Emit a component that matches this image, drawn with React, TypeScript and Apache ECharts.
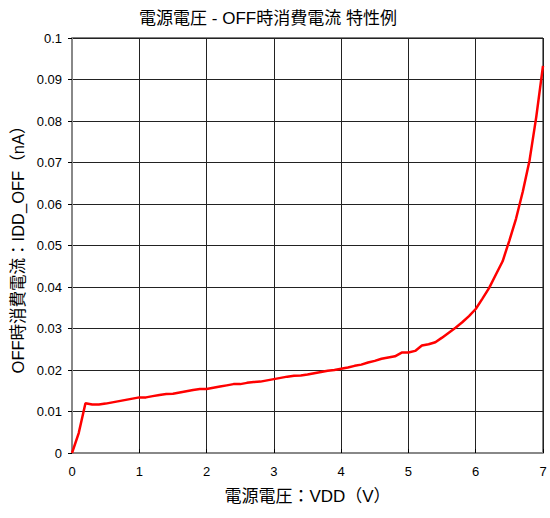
import React, { useEffect, useRef } from "react";
import * as echarts from "echarts";

const titleText = "電源電圧 - OFF時消費電流 特性例";
const xName = "電源電圧：VDD（V）";
const yName = "OFF時消費電流：IDD_OFF（nA）";

const vdd = [
  0.0, 0.1, 0.2, 0.3, 0.4, 0.5, 0.6, 0.7, 0.8, 0.9,
  1.0, 1.1, 1.2, 1.3, 1.4, 1.5, 1.6, 1.7, 1.8, 1.9,
  2.0, 2.1, 2.2, 2.3, 2.4, 2.5, 2.6, 2.7, 2.8, 2.9,
  3.0, 3.1, 3.2, 3.3, 3.4, 3.5, 3.6, 3.7, 3.8, 3.9,
  4.0, 4.1, 4.2, 4.3, 4.4, 4.5, 4.6, 4.7, 4.8, 4.9,
  5.0, 5.1, 5.2, 5.3, 5.4, 5.5, 5.6, 5.7, 5.8, 5.9,
  6.0, 6.1, 6.2, 6.3, 6.4, 6.5, 6.6, 6.7, 6.8, 6.9,
  7.0,
];
const iddOff = [
  0.0, 0.0048, 0.012, 0.0117, 0.0117, 0.0119, 0.0122, 0.0125, 0.0128, 0.0131,
  0.0134, 0.0134, 0.0137, 0.014, 0.0142, 0.0143, 0.0146, 0.0149, 0.0152, 0.0154,
  0.0154, 0.0157, 0.016, 0.0163, 0.0166, 0.0166, 0.0169, 0.0171, 0.0172, 0.0175,
  0.0178, 0.0181, 0.0184, 0.0186, 0.0187, 0.0189, 0.0192, 0.0195, 0.0198, 0.02,
  0.0203, 0.0206, 0.021, 0.0213, 0.0218, 0.0222, 0.0227, 0.023, 0.0233, 0.0242,
  0.0242, 0.0246, 0.0259, 0.0262, 0.0267, 0.0278, 0.029, 0.0302, 0.0315, 0.033,
  0.0347, 0.0372, 0.0398, 0.043, 0.0462, 0.0512, 0.0565, 0.063, 0.0705, 0.081,
  0.0933,
];

const FONT = '"Liberation Sans", Arial, "Noto Sans CJK JP", sans-serif';

export default function App() {
  const ref = useRef<HTMLDivElement>(null);
  useEffect(() => {
    document.body.style.margin = "0";
    if (!ref.current) return;
    const chart = echarts.init(ref.current, null, { renderer: "svg" });
    const data = vdd.map((x, i) => [x, iddOff[i]]);
    chart.setOption({
      animation: false,
      backgroundColor: "#ffffff",
      textStyle: { fontFamily: FONT },
      title: {
        text: titleText,
        left: 263,
        top: 5,
        textAlign: "center",
        textStyle: { fontFamily: FONT, fontSize: 17, fontWeight: "normal", color: "#000" },
      },
      grid: {
        left: 72,
        right: 7,
        top: 38,
        bottom: 65,
        show: true,
        borderColor: "#000",
        borderWidth: 1,
        containLabel: false,
      },
      xAxis: {
        type: "value",
        min: 0,
        max: 7,
        interval: 1,
        name: xName,
        nameLocation: "middle",
        nameGap: 35,
        nameTextStyle: { fontFamily: FONT, fontSize: 17, color: "#000" },
        axisLine: { show: true, lineStyle: { color: "#888", width: 2 } },
        axisTick: { show: true, inside: true, length: 4, lineStyle: { color: "#000" } },
        axisLabel: { margin: 12, fontSize: 13, color: "#000", fontFamily: FONT },
        splitLine: { show: true, lineStyle: { color: "#222", width: 1 } },
      },
      yAxis: {
        type: "value",
        min: 0,
        max: 0.1,
        interval: 0.01,
        name: yName,
        nameLocation: "middle",
        nameGap: 45,
        nameTextStyle: { fontFamily: FONT, fontSize: 16.5, color: "#000" },
        axisLine: { show: true, lineStyle: { color: "#888", width: 2 } },
        axisTick: { show: true, inside: false, length: 4, lineStyle: { color: "#000" } },
        axisLabel: {
          margin: 10,
          fontSize: 13,
          color: "#000",
          fontFamily: FONT,
          formatter: (v: number) => String(+v.toFixed(2)),
        },
        splitLine: { show: true, lineStyle: { color: "#222", width: 1 } },
      },
      series: [
        {
          type: "line",
          data,
          showSymbol: false,
          symbol: "none",
          lineStyle: { color: "#ff0000", width: 2.5 },
          itemStyle: { color: "#ff0000" },
        },
      ],
    });
    return () => chart.dispose();
  }, []);
  return <div ref={ref} style={{ width: 550, height: 518 }} />;
}
